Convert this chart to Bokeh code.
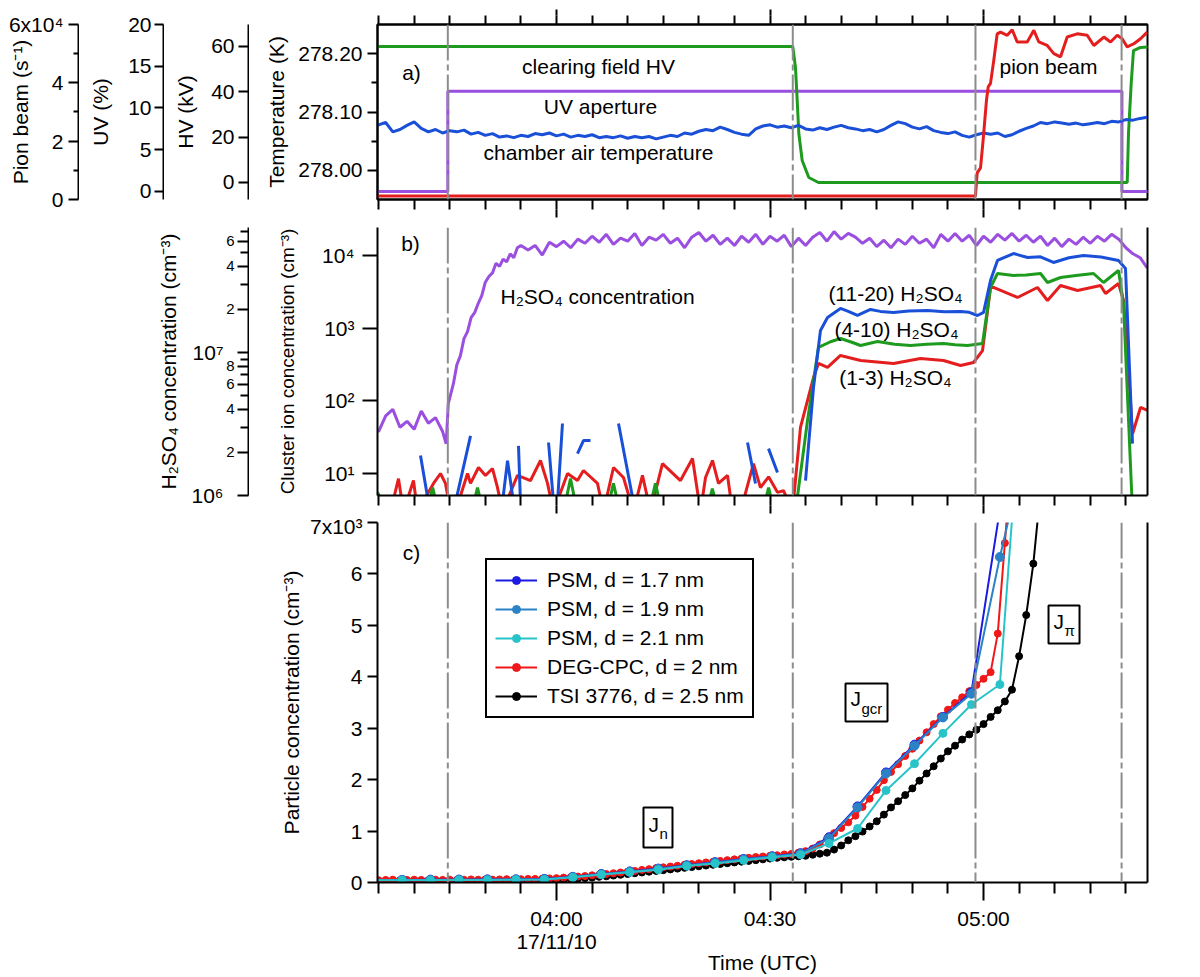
import numpy as np
from bokeh.plotting import figure
from bokeh.models import (Range1d, LinearAxis, LogAxis, FixedTicker, Span,
                          Legend, LegendItem, LogScale, NumeralTickFormatter)
from bokeh.layouts import column, row
from bokeh.embed import file_html
from bokeh.resources import INLINE
from bokeh.core.properties import value

# ======================= DATA =======================
# time in minutes relative to 04:00 UTC (17/11/10)
x_ticks_major = [0, 30, 60]
x_tick_labels = ["04:00\n17/11/10", "04:30", "05:00"]
x_ticks_minor = [-25, -20, -15, -10, -5, 5, 10, 15, 20, 25, 35, 40, 45, 50, 55, 65, 70, 75, 80]
event_t = [-15.27, 33.2, 58.87, 79.4]          # dashed vertical lines

# panel a) chamber air temperature (K)
temp_t = list(range(-26, 84))
temp_k = [278.080, 278.078, 278.082, 278.066, 278.070, 278.077, 278.083, 278.072, 278.066, 278.070,
          278.064, 278.068, 278.066, 278.069, 278.062, 278.065, 278.060, 278.063, 278.057, 278.059,
          278.056, 278.060, 278.058, 278.063, 278.061, 278.064, 278.059, 278.062, 278.057, 278.060,
          278.058, 278.061, 278.056, 278.058, 278.056, 278.059, 278.055, 278.058, 278.056, 278.058,
          278.054, 278.057, 278.060, 278.058, 278.064, 278.062, 278.067, 278.070, 278.068, 278.074,
          278.070, 278.065, 278.062, 278.060, 278.071, 278.076, 278.078, 278.074, 278.076, 278.073,
          278.077, 278.071, 278.069, 278.073, 278.070, 278.074, 278.077, 278.073, 278.071, 278.068,
          278.070, 278.066, 278.070, 278.077, 278.083, 278.080, 278.074, 278.071, 278.075, 278.068,
          278.065, 278.063, 278.066, 278.060, 278.057, 278.061, 278.064, 278.062, 278.064, 278.058,
          278.061, 278.067, 278.072, 278.076, 278.082, 278.080, 278.083, 278.081, 278.079, 278.081,
          278.078, 278.080, 278.082, 278.080, 278.084, 278.083, 278.087, 278.086, 278.089, 278.091]

# clearing field HV (kV)
hv_t = [-26, 33.2, 33.58, 33.82, 34.05, 34.52, 35.45, 36.81, 80.19, 80.37, 80.75, 81.07, 82.06, 84]
hv_kv = [60, 60, 50.7, 36.2, 21.6, 9.7, 2.2, 0, 0, 21.6, 43.7, 58.2, 59.6, 60]

# UV aperture (%)
uv_t = [-26, -15.27, -15.27, 79.45, 79.45, 84]
uv_pct = [0, 0, 12, 12, 0, 0]

# pion beam (s^-1)
pion_t = [-26, 58.87, 59.11, 59.58, 59.95, 60.42, 60.66, 60.98, 61.44, 61.92, 62.39, 63.33, 64.03,
          64.73, 66.14, 67.07, 67.77, 68.95, 69.88, 70.82, 71.76, 73.16, 74.57, 75.50, 76.91, 77.85,
          78.79, 79.49, 80.19, 81.12, 82.06, 83.0]
pion_v = [1100, 1100, 9100, 10800, 20500, 34100, 38600, 39800, 47700, 56800, 57400, 56300, 58200,
          54000, 54000, 58000, 54000, 52800, 50000, 48900, 55700, 56800, 56300, 52800, 55700, 54000,
          56300, 55100, 52300, 53400, 55100, 57400]

# panel b) H2SO4 concentration (cm^-3)
h2so4_t = ([-26, -25, -24, -23, -22, -21, -20, -19, -18, -17, -16, -15.5, -15.2,
            -14.5, -14, -13.5, -13, -12.5, -12, -11.5, -11, -10.5, -10, -9.5, -9, -8.5, -8,
            -7.5, -7, -6.5, -6, -5.5, -5] + list(range(-4, 84)))
h2so4_v = [3.1e6, 2.8e6, 3.6e6, 4.0e6, 3.0e6, 3.3e6, 2.9e6, 3.9e6, 3.2e6, 3.5e6, 2.8e6, 2.3e6, 4.4e6,
           6.0e6, 8.2e6, 9.5e6, 1.25e7, 1.4e7, 1.75e7, 1.9e7, 2.2e7, 2.5e7, 3.1e7, 3.4e7, 3.6e7, 4.2e7, 4.0e7,
           4.5e7, 4.3e7, 4.9e7, 4.6e7, 5.4e7, 5.6e7,
           5.2e7, 5.6e7, 4.8e7, 5.9e7, 5.5e7, 6.0e7, 5.4e7, 6.2e7, 5.8e7, 6.5e7,
           5.9e7, 6.7e7, 5.7e7, 6.3e7, 6.0e7, 6.8e7, 5.6e7, 6.4e7, 6.1e7, 6.7e7,
           5.8e7, 6.3e7, 5.4e7, 6.4e7, 6.9e7, 6.0e7, 6.6e7, 5.7e7, 6.3e7, 5.6e7,
           6.5e7, 5.9e7, 6.7e7, 5.7e7, 6.5e7, 6.0e7, 6.6e7, 5.5e7, 6.3e7, 5.6e7,
           6.4e7, 6.9e7, 6.0e7, 7.0e7, 6.2e7, 6.8e7, 6.4e7, 5.8e7, 6.3e7, 5.5e7,
           6.1e7, 5.4e7, 6.2e7, 5.7e7, 6.5e7, 5.8e7, 6.2e7, 5.4e7, 6.7e7, 6.0e7,
           6.8e7, 6.0e7, 6.6e7, 5.6e7, 6.5e7, 5.9e7, 6.7e7, 6.1e7, 6.8e7, 6.0e7,
           6.6e7, 5.9e7, 6.5e7, 5.6e7, 6.3e7, 5.5e7, 6.2e7, 5.7e7, 6.4e7, 5.8e7,
           6.5e7, 6.0e7, 6.7e7, 6.2e7, 5.4e7, 4.9e7, 4.6e7, 3.9e7]

NAN = float("nan")
# cluster ion concentrations (cm^-3); values below 5 fall under the axis floor
c1120_t = [-19.11, -17.99, NAN, -14.19, -12.08, NAN, -7.59, -6.88, -6.04, NAN, -5.34, -5.06, NAN,
           -1.12, -0.42, NAN, 0.14, 0.84, NAN, 2.95, 3.79, 4.78, NAN, 8.71, 10.82, NAN,
           26.84, 27.96, NAN, 29.79, 31.05, NAN,
           34.99, 36.11, 37.09, 38.08, 39.90, 41.0, 42.29, 44.12, 45.5, 47.35, 49.5, 52.13, 54.5,
           56.77, 58.0, 59.15, 60.0, 60.98, 61.96, 64.21, 66.18, 68.0, 69.83, 72.0, 74.05, 76.5,
           78.97, 79.95, 80.93]
c1120_v = [17.7, 4, NAN, 4, 33, NAN, 4, 15, 4, NAN, 24, 4, NAN,
           26.7, 4, NAN, 4, 48.7, NAN, 18.8, 28.4, 28.4, NAN, 48.7, 4, NAN,
           26.7, 7.3, NAN, 22, 10.3, NAN,
           8.0, 152, 929, 1403, 1866, 1700, 1494, 1807, 1700, 1644, 1720, 1750, 1680,
           1695, 1650, 1494, 1644, 4527, 8531, 10640, 9370, 9600, 8012, 9300, 10000, 9500,
           8531, 6620, 25.8]

c410_t = [-26, -25.0, -24.2, -18.2, -17.4, -16.6, -11.9, -11.1, -10.3, 1.0, 1.97, 2.9, 7.1, 8.0,
          8.9, 13.0, 13.9, 14.8, 21.1, 21.9, 22.7, 29.0, 29.8, 30.6, 33.58,
          35.27, 36.81, 38.5, 39.90, 41.5, 42.72, 45.10, 47.5, 49.74, 52.0, 54.38, 56.0, 57.75,
          59.86, 60.98, 61.96, 64.21, 66.0, 68.01, 68.99, 70.82, 73.0, 75.45, 76.86, 78.97,
          79.67, 80.93]
c410_v = [6.5, 5.2, 3, 3, 6.4, 3, 3, 6.4, 3, 3, 8.5, 3, 3, 7.3,
          3, 3, 7.3, 3, 3, 6.2, 3, 3, 6.4, 3, 3,
          53.6, 542, 650, 721, 640, 577, 655, 600, 577, 600, 615, 590, 577,
          615, 3627, 5650, 5310, 5400, 5650, 4246, 4977, 5300, 5650, 4246, 6210,
          2185, 3]

c13_t = [-26, -23.32, -22.20, -21.50, -20.09, -19.53, -17.28, -16.30, -15.60, -14.89, -14.19,
         -12.50, -12.08, -10.96, -9.98, -8.99, -8.29, -7.59, -5.48, -3.65, -2.25, -1.26, -0.42,
         1.55, 2.95, 3.79, 5.76, 6.60, 8.01, 9.41, 10.82, 12.08, 13.21, 14.89, 17.42, 19.11,
         20.23, 20.94, 21.92, 22.76, 24.03, 24.73, 25.85, 27.68, 28.66, 29.80, 31.05, 31.90,
         33.16, 34.28, 36.11, 36.81, 38.08, 39.90, 42.72, 47.35, 51.15, 54.38, 56.77, 58.59,
         59.86, 60.98, 61.40, 64.77, 67.58, 68.99, 70.82, 73.21, 76.44, 77.14, 78.97, 79.67,
         80.23, 80.93, 82.06, 83.04]
c13_v = [3, 3, 8.5, 3, 8.0, 3, 7.3, 10, 7.3, 3, 3,
         10, 7.3, 12.1, 9.4, 11.7, 6.4, 3, 9.4, 8.0, 15.1, 7.3, 3,
         10, 8.0, 11, 7.3, 3, 12.1, 8.8, 3, 9.4, 3, 13.7, 8.0, 16.1,
         3, 8.8, 15.1, 7.3, 9.4, 3, 3, 13.7, 6.4, 9.0, 5.5, 5.8,
         3, 43, 209, 327, 288, 421, 359, 327, 383, 359, 306, 337,
         492, 3627, 3627, 2642, 3627, 2404, 3864, 3296, 3864, 3000, 4120, 2404,
         448, 35, 81, 73.6]

# panel c) particle concentration (cm^-3)
psm_t = [-25.7, -21.7, -17.7, -13.7, -9.7, -5.7, -1.7, 2.3, 6.3, 10.3, 14.3, 18.3, 22.3, 26.3,
         30.3, 34.3, 38.3, 42.3, 46.3, 50.3, 54.3, 58.3, 62.3, 66.3]
psm17 = [50, 50, 55, 55, 60, 60, 70, 110, 165, 215, 270, 335, 395, 455,
         510, 570, 880, 1480, 2140, 2680, 3220, 3700, 7250, 14000]
psm19 = [50, 50, 50, 55, 55, 60, 65, 105, 160, 210, 265, 330, 390, 450,
         505, 560, 860, 1460, 2120, 2660, 3210, 3670, 6330, 8700]
psm21 = [45, 45, 45, 50, 50, 55, 60, 100, 155, 200, 250, 320, 370, 430,
         490, 540, 760, 1050, 1790, 2310, 2900, 3460, 3850, 11400]

deg_t = list(range(-26, 65))
deg_v = [50, 45, 50, 55, 45, 50, 55, 50, 45, 55, 50, 55, 50, 55, 60, 55, 60, 55, 60, 65, 60,
         65, 70, 70, 75, 80, 85, 95, 105, 115, 125, 140, 150, 165, 180, 195, 210, 225, 245, 260,
         280, 295, 310, 325, 345, 360, 375, 390, 405, 420, 435, 450, 465, 480, 495, 505, 520,
         530, 545, 555,
         580, 610, 660, 740, 850, 960, 1060, 1170, 1300, 1470, 1630, 1800, 1990, 2150, 2300,
         2460, 2600, 2760, 2920, 3080, 3230, 3360, 3490, 3600, 3720, 3840, 3960, 4090, 4840,
         6600, 8400]

tsi_t = list(range(-26, 69))
tsi_v = [35, 30, 35, 30, 35, 30, 35, 30, 35, 30, 35, 30, 35, 35, 30, 35, 35, 40, 35, 40, 40,
         40, 40, 45, 45, 50, 55, 60, 65, 75, 85, 95, 110, 120, 135, 150, 165, 180, 195, 210,
         225, 240, 255, 270, 285, 300, 315, 330, 345, 360, 375, 390, 405, 420, 435, 450, 465,
         480, 490, 500,
         510, 520, 540, 560, 580, 640, 720, 820, 900, 990, 1090, 1190, 1320, 1460, 1580, 1700,
         1830, 1980, 2120, 2260, 2410, 2550, 2660, 2780, 2880, 2970, 3080, 3220, 3350, 3520,
         3750, 4400, 5200, 6200, 7600]

legend_labels = ["PSM, d = 1.7 nm", "PSM, d = 1.9 nm", "PSM, d = 2.1 nm",
                 "DEG-CPC, d = 2 nm", "TSI 3776, d = 2.5 nm"]

# ======================= STYLE / LAYOUT =======================
FONT = "Liberation Sans"
C_GREEN = "#1e9b1e"
C_RED = "#e41e1e"
C_BLUE = "#1a4fd8"
C_PURPLE = "#9a4fe0"
C_GRAY = "#8c8c8c"
C_PSM17 = "#1c1ce0"
C_PSM19 = "#2b83c6"
C_PSM21 = "#27c3c8"
C_DEG = "#f01818"
DASH = "36 4 6 4"

xr = Range1d(-25.15, 83.04)
temp_range = Range1d(277.95, 278.25)
hv_range = Range1d(-7.5, 69.7)
uv_range = Range1d(-0.96, 20.0)
pion_range = Range1d(-60, 60000)
h2_range = Range1d(1e6, 7.48e7)
cl_range = Range1d(4.98, 24260)
pc_range = Range1d(0, 7000)


def style_axis(ax, tick_out=10, minor_out=5, label_size="21px", standoff=5):
    ax.axis_line_width = 2
    ax.axis_line_color = "black"
    ax.major_tick_line_width = 2
    ax.minor_tick_line_width = 2
    ax.major_tick_line_color = "black"
    ax.minor_tick_line_color = "black"
    ax.major_tick_in = 0
    ax.minor_tick_in = 0
    ax.major_tick_out = tick_out
    ax.minor_tick_out = minor_out
    ax.major_label_text_font = FONT
    ax.major_label_text_font_size = label_size
    ax.major_label_text_color = "black"
    ax.major_label_standoff = standoff
    ax.axis_label_text_font = FONT
    ax.axis_label_text_font_size = "21px"
    ax.axis_label_text_font_style = "normal"
    ax.axis_label_text_color = "black"


def tick_only_axes(p, inner, side, short, long_extra):
    """Unlabelled time ticks: short ticks at every 5 min on the framed axis,
    extended at the major times by a second, line-less axis stacked outside."""
    all_t = sorted(x_ticks_major + x_ticks_minor)
    inner.ticker = FixedTicker(ticks=[], minor_ticks=all_t)
    style_axis(inner, short, short)
    outer = LinearAxis(ticker=FixedTicker(ticks=[], minor_ticks=x_ticks_major))
    style_axis(outer, long_extra, long_extra)
    outer.axis_line_color = None
    p.add_layout(outer, side)


def line_only_axis(cls):
    ax = cls(ticker=FixedTicker(ticks=[]))
    ax.axis_line_width = 2
    ax.axis_line_color = "black"
    ax.major_tick_out = 0
    ax.minor_tick_out = 0
    ax.major_tick_in = 0
    ax.minor_tick_in = 0
    return ax


def axis_only(width, left, height, top, bottom, yr, ytype="linear"):
    f = figure(width=width, height=height, x_range=Range1d(0, 1), y_range=yr, y_axis_type=ytype,
               x_axis_location=None, toolbar_location=None, output_backend="svg",
               min_border_left=left, min_border_right=0, min_border_top=top,
               min_border_bottom=bottom)
    f.outline_line_color = None
    f.xgrid.visible = False
    f.ygrid.visible = False
    return f


def add_events(p):
    for t in event_t:
        p.add_layout(Span(location=t, dimension="height", line_color=C_GRAY,
                          line_width=2, line_dash=DASH))


def add_text(p, xs, ys, texts, size="21px", align="center", **kw):
    p.text(x=xs, y=ys, text=texts, text_font=value(FONT), text_font_size=size,
           text_align=align, text_baseline="middle", text_color="black", **kw)


# ---------------- row a: extra axes ----------------
H_A, TOP_A, BOT_A = 218, 24, 19
f_pion = axis_only(79, 78, H_A, TOP_A, BOT_A, pion_range)
ax = f_pion.yaxis[0]
ax.ticker = FixedTicker(ticks=[0, 20000, 40000, 60000], minor_ticks=[10000, 30000, 50000])
style_axis(ax, 10, 5)
ax.major_label_overrides = {0: "0", 20000: "2", 40000: "4", 60000: "6x10\u2074"}
ax.axis_label = "Pion beam (s\u207b\u00b9)"
ax.axis_label_standoff = -26

f_uv = axis_only(85, 84, H_A, TOP_A, BOT_A, uv_range)
ax = f_uv.yaxis[0]
ax.ticker = FixedTicker(ticks=[0, 5, 10, 15, 20], minor_ticks=[])
style_axis(ax, 9, 5, standoff=3)
ax.axis_label = "UV (%)"
ax.axis_label_standoff = 13

f_hv = axis_only(85, 84, H_A, TOP_A, BOT_A, hv_range)
ax = f_hv.yaxis[0]
ax.ticker = FixedTicker(ticks=[0, 20, 40, 60], minor_ticks=[])
style_axis(ax, 10, 5, standoff=4)
ax.axis_label = "HV (kV)"
ax.axis_label_standoff = 11

# ---------------- panel a ----------------
pa = figure(width=928, height=H_A, x_range=xr, y_range=temp_range, output_backend="svg",
            toolbar_location=None, min_border_left=128, min_border_right=30,
            min_border_top=TOP_A, min_border_bottom=BOT_A)
pa.extra_y_ranges = {"hv": hv_range, "uv": uv_range, "pion": pion_range}
pa.grid.visible = False
pa.outline_line_color = "black"
pa.outline_line_width = 2
ya = pa.yaxis[0]
ya.ticker = FixedTicker(ticks=[278.0, 278.1, 278.2], minor_ticks=[278.05, 278.15])
ya.formatter = NumeralTickFormatter(format="0.00")
style_axis(ya, 10, 6)
ya.axis_label = "Temperature (K)"
ya.axis_label_standoff = 7
tick_only_axes(pa, pa.xaxis[0], "below", 10, 8)
top_ax = LinearAxis()
pa.add_layout(top_ax, "above")
tick_only_axes(pa, top_ax, "above", 9, 6)

pa.line(uv_t, uv_pct, y_range_name="uv", line_color=C_PURPLE, line_width=3)
pa.line(hv_t, hv_kv, y_range_name="hv", line_color=C_GREEN, line_width=3)
pa.line(temp_t, temp_k, line_color=C_BLUE, line_width=3)
pa.line(pion_t, pion_v, y_range_name="pion", line_color=C_RED, line_width=3)
add_events(pa)
add_text(pa, [-20.37], [278.168], ["a)"])
add_text(pa, [5.9, 6.18, 5.9, 69.13], [278.178, 278.110, 278.031, 278.178],
         ["clearing field HV", "UV aperture", "chamber air temperature", "pion beam"])

# ---------------- row b: H2SO4 axis ----------------
H_B, TOP_B, BOT_B = 296, 9, 19
f_h2 = axis_only(249, 248, H_B, TOP_B, BOT_B, h2_range, "log")
ax = f_h2.yaxis[0]
ax.ticker = FixedTicker(ticks=[1e6, 2e6, 4e6, 6e6, 8e6, 1e7, 2e7, 4e7, 6e7],
                        minor_ticks=[3e6, 5e6, 7e6, 9e6, 3e7, 5e7, 7e7])
style_axis(ax, 11, 8, label_size="15px", standoff=3)
ax.major_label_overrides = {1e6: "", 2e6: "2", 4e6: "4", 6e6: "6", 8e6: "8",
                            1e7: "", 2e7: "2", 4e7: "4", 6e7: "6"}
# decade labels, larger, on a second axis without line or ticks, just outside
dec_ax = LogAxis(ticker=FixedTicker(ticks=[1e6, 1e7], minor_ticks=[]))
style_axis(dec_ax, 0, 0, standoff=0)
dec_ax.axis_line_color = None
dec_ax.major_tick_line_color = None
dec_ax.major_label_overrides = {1e6: "10\u2076", 1e7: "10\u2077"}
dec_ax.axis_label = "H\u2082SO\u2084 concentration (cm\u207b\u00b3)"
dec_ax.axis_label_standoff = 8
f_h2.add_layout(dec_ax, "left")

# ---------------- panel b ----------------
pb = figure(width=928, height=H_B, x_range=xr, y_range=cl_range, y_axis_type="log",
            output_backend="svg", toolbar_location=None, min_border_left=128,
            min_border_right=30, min_border_top=TOP_B, min_border_bottom=BOT_B)
pb.extra_y_ranges = {"h2": h2_range}
pb.extra_y_scales = {"h2": LogScale()}
pb.grid.visible = False
pb.outline_line_color = None
yb = pb.yaxis[0]
yb.ticker = FixedTicker(ticks=[10, 100, 1000, 10000], minor_ticks=[])
style_axis(yb, 15, 0, standoff=8)
yb.major_label_overrides = {10: "10\u00b9", 100: "10\u00b2", 1000: "10\u00b3", 10000: "10\u2074"}
yb.axis_label = "Cluster ion concentration (cm\u207b\u00b3)"
yb.axis_label_text_font_size = "19px"
yb.axis_label_standoff = 21
tick_only_axes(pb, pb.xaxis[0], "below", 10, 8)
pb.add_layout(line_only_axis(LogAxis), "right")

pb.line(np.array(h2so4_t), np.array(h2so4_v), y_range_name="h2", line_color=C_PURPLE, line_width=3)
pb.line(np.array(c13_t), np.array(c13_v), line_color=C_RED, line_width=3)
pb.line(np.array(c410_t), np.array(c410_v), line_color=C_GREEN, line_width=3)
pb.line(np.array(c1120_t), np.array(c1120_v), line_color=C_BLUE, line_width=3)
add_events(pb)
add_text(pb, [-20.51], [14620], ["b)"])
add_text(pb, [-7.87], [2729], ["H\u2082SO\u2084 concentration"], align="left")
add_text(pb, [47.63, 47.77, 47.63], [2999, 959, 209],
         ["(11-20) H\u2082SO\u2084", "(4-10) H\u2082SO\u2084", "(1-3) H\u2082SO\u2084"])

# ---------------- panel c ----------------
pc = figure(width=1177, height=463, x_range=xr, y_range=pc_range, output_backend="svg",
            toolbar_location=None, min_border_left=377, min_border_right=30,
            min_border_top=8, min_border_bottom=95)
pc.grid.visible = False
pc.outline_line_color = None
yc = pc.yaxis[0]
yc.ticker = FixedTicker(ticks=[0, 1000, 2000, 3000, 4000, 5000, 6000, 7000], minor_ticks=[])
style_axis(yc, 10, 0, standoff=5)
yc.major_label_overrides = {0: "0", 1000: "1", 2000: "2", 3000: "3", 4000: "4", 5000: "5",
                            6000: "6", 7000: "7x10\u00b3"}
yc.axis_label = "Particle concentration (cm\u207b\u00b3)"
yc.axis_label_standoff = 4
xc = pc.xaxis[0]
xc.ticker = FixedTicker(ticks=x_ticks_major, minor_ticks=x_ticks_minor)
style_axis(xc, 18, 11, standoff=6)
xc.major_label_text_line_height = 1.0
xc.major_label_overrides = dict(zip(x_ticks_major, x_tick_labels))
xc.axis_label = "Time (UTC)"
xc.axis_label_standoff = -5
pc.add_layout(line_only_axis(LinearAxis), "right")

r_tsi_l = pc.line(tsi_t, tsi_v, line_color="black", line_width=2)
r_tsi_s = pc.scatter(tsi_t, tsi_v, size=7, color="black")
r_deg_l = pc.line(deg_t, deg_v, line_color=C_DEG, line_width=2)
r_deg_s = pc.scatter(deg_t, deg_v, size=7, color=C_DEG)
r_17_l = pc.line(psm_t, psm17, line_color=C_PSM17, line_width=2)
r_17_s = pc.scatter(psm_t, psm17, size=9, color=C_PSM17)
r_19_l = pc.line(psm_t, psm19, line_color=C_PSM19, line_width=2)
r_19_s = pc.scatter(psm_t, psm19, size=9, color=C_PSM19)
r_21_l = pc.line(psm_t, psm21, line_color=C_PSM21, line_width=2)
r_21_s = pc.scatter(psm_t, psm21, size=8, color=C_PSM21)
add_events(pc)
add_text(pc, [-20.37], [6417], ["c)"])

# J boxes (annotation positions)
jb_t = [14.26, 43.56, 71.31]
jb_v = [1069, 3500, 5016]
jb_w = [29, 42, 31]
jb_h = [40, 38, 38]
pc.rect(x=jb_t, y=jb_v, width=jb_w, height=jb_h, width_units="screen", height_units="screen",
        fill_color="white", line_color="black", line_width=2)
pc.text(x=jb_t, y=jb_v, text=["J", "J", "J"], x_offset=[-9.5, -16, -10.5], y_offset=[-3, -4, -3],
        text_font=value(FONT), text_font_size="21px", text_align="left",
        text_baseline="middle", text_color="black")
pc.text(x=jb_t, y=jb_v, text=["n", "gcr", "\u03c0"], x_offset=[1.5, -5, 0.5], y_offset=[6, 6, 6],
        text_font=value(FONT), text_font_size="15px", text_align="left",
        text_baseline="middle", text_color="black")

legend = Legend(items=[
    LegendItem(label=legend_labels[0], renderers=[r_17_l, r_17_s]),
    LegendItem(label=legend_labels[1], renderers=[r_19_l, r_19_s]),
    LegendItem(label=legend_labels[2], renderers=[r_21_l, r_21_s]),
    LegendItem(label=legend_labels[3], renderers=[r_deg_l, r_deg_s]),
    LegendItem(label=legend_labels[4], renderers=[r_tsi_l, r_tsi_s]),
], location=(108, 164))
legend.label_text_font = FONT
legend.label_text_font_size = "21px"
legend.label_text_color = "black"
legend.glyph_width = 42
legend.glyph_height = 20
legend.label_height = 20
legend.label_standoff = 10
legend.spacing = 5
legend.padding = 8
legend.margin = 0
legend.border_line_color = "black"
legend.border_line_alpha = 1.0
legend.border_line_width = 2
legend.background_fill_color = "white"
legend.background_fill_alpha = 1.0
pc.add_layout(legend)

layout = column(row(f_pion, f_uv, f_hv, pa), row(f_h2, pb), pc)
open("out.html", "w").write(file_html(layout, INLINE, title="chart"))
